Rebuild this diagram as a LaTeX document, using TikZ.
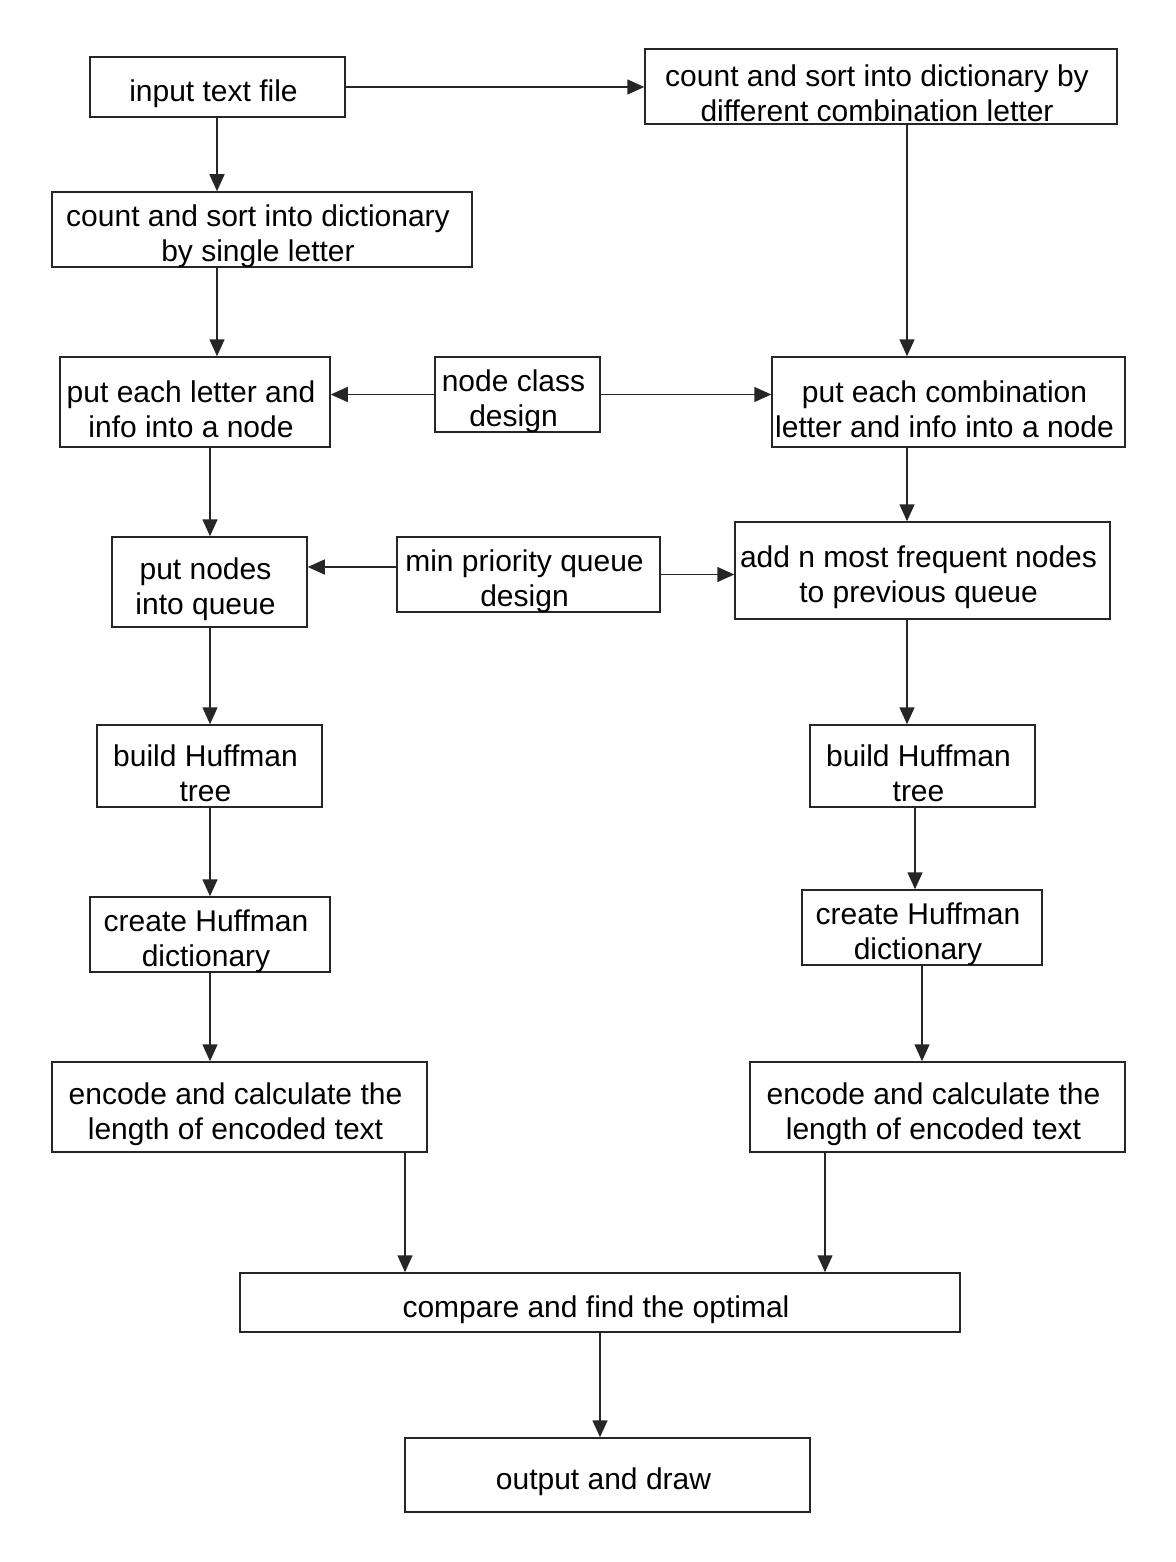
\documentclass[tikz,border=0pt]{standalone}
\usepackage{fontspec}
\setmainfont{Liberation Sans}
\usetikzlibrary{arrows.meta}
\begin{document}
\begin{tikzpicture}[x=1pt,y=-1pt,
  box/.style={draw=black!85,line width=1.5pt,rectangle,inner sep=0pt,
    label={[font=\fontsize{30}{35}\selectfont,align=center,inner sep=0pt,xshift=-4pt,yshift=-7pt]center:#1}},
  arr/.style={draw=black!85,line width=1.5pt,-{Triangle[length=17pt,width=15pt]}}]
\useasboundingbox[fill=white] (0,0) rectangle (1175,1562);
\node[box={input text file},minimum width=255,minimum height=60] (in) at (217.5,87) {};
\node[box={count and sort into dictionary by\\different combination letter},minimum width=472,minimum height=75] (cd) at (881,86.5) {};
\node[box={count and sort into dictionary\\by single letter},minimum width=420,minimum height=75] (cs) at (262,229.5) {};
\node[box={put each letter and\\info into a node},minimum width=270,minimum height=90] (pl) at (195,402) {};
\node[box={node class\\design},minimum width=165,minimum height=75] (nc) at (517.5,394.5) {};
\node[box={put each combination\\letter and info into a node},minimum width=353,minimum height=90] (pc) at (948.5,402) {};
\node[box={put nodes\\into queue},minimum width=195,minimum height=90] (pq) at (209.5,582) {};
\node[box={min priority queue\\design},minimum width=263,minimum height=75] (mp) at (528.5,574.5) {};
\node[box={add n most frequent nodes\\to previous queue},minimum width=375,minimum height=97] (an) at (922.5,570.5) {};
\node[box={build Huffman\\tree},minimum width=225,minimum height=82] (bl) at (209.5,766) {};
\node[box={build Huffman\\tree},minimum width=225,minimum height=82] (br) at (922.5,766) {};
\node[box={create Huffman\\dictionary},minimum width=240,minimum height=75] (dl) at (210,934.5) {};
\node[box={create Huffman\\dictionary},minimum width=240,minimum height=75] (dr) at (922,927.5) {};
\node[box={encode and calculate the\\length of encoded text},minimum width=375,minimum height=90] (el) at (239.5,1107) {};
\node[box={encode and calculate the\\length of encoded text},minimum width=375,minimum height=90] (er) at (937.5,1107) {};
\node[box={compare and find the optimal},minimum width=720,minimum height=59] (cf) at (600,1302.5) {};
\node[box={output and draw},minimum width=405,minimum height=74] (od) at (607.5,1475) {};
% helper coordinates for connector columns/rows
\coordinate (xa) at (217,0);
\coordinate (xb) at (907,0);
\coordinate (xc) at (210,0);
\coordinate (xd) at (915,0);
\coordinate (xe) at (405,0);
\coordinate (xf) at (825,0);
\coordinate (ya) at (0,567);
\draw[arr] (in.east) -- (cd.west |- in.east);
\draw[arr] (in.south -| xa) -- (cs.north -| xa);
\draw[arr] (cs.south -| xa) -- (pl.north -| xa);
\draw[arr] (cd.south -| xb) -- (pc.north -| xb);
\draw[arr] (nc.west) -- (pl.east |- nc.west);
\draw[arr] (nc.east) -- (pc.west |- nc.east);
\draw[arr] (pl.south -| xc) -- (pq.north -| xc);
\draw[arr] (pc.south -| xb) -- (an.north -| xb);
\draw[arr] (mp.west |- ya) -- (pq.east |- ya);
\draw[arr] (mp.east) -- (an.west |- mp.east);
\draw[arr] (pq.south -| xc) -- (bl.north -| xc);
\draw[arr] (an.south -| xb) -- (br.north -| xb);
\draw[arr] (bl.south -| xc) -- (dl.north -| xc);
\draw[arr] (br.south -| xd) -- (dr.north -| xd);
\draw[arr] (dl.south -| xc) -- (el.north -| xc);
\draw[arr] (dr.south) -- (dr.south |- er.north);
\draw[arr] (el.south -| xe) -- (cf.north -| xe);
\draw[arr] (er.south -| xf) -- (cf.north -| xf);
\draw[arr] (cf.south) -- (cf.south |- od.north);
\end{tikzpicture}
\end{document}
